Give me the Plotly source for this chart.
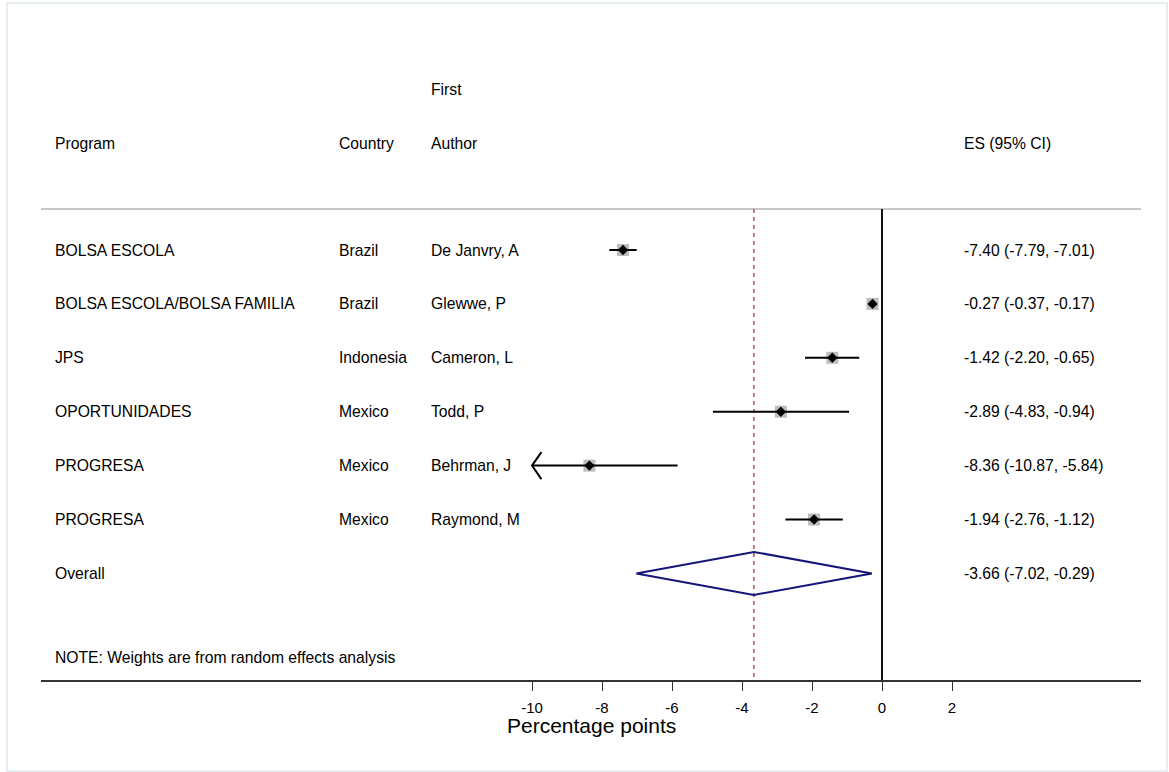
import plotly.graph_objects as go

# ---------------- data ----------------
programs = ["BOLSA ESCOLA", "BOLSA ESCOLA/BOLSA FAMILIA", "JPS", "OPORTUNIDADES", "PROGRESA", "PROGRESA"]
countries = ["Brazil", "Brazil", "Indonesia", "Mexico", "Mexico", "Mexico"]
authors = ["De Janvry, A", "Glewwe, P", "Cameron, L", "Todd, P", "Behrman, J", "Raymond, M"]
es = [-7.40, -0.27, -1.42, -2.89, -8.36, -1.94]
ci_lo = [-7.79, -0.37, -2.20, -4.83, -10.87, -2.76]
ci_hi = [-7.01, -0.17, -0.65, -0.94, -5.84, -1.12]
overall_es, overall_lo, overall_hi = -3.66, -7.02, -0.29
tick_vals = [-10, -8, -6, -4, -2, 0, 2]
x_title = "Percentage points"
note = "NOTE: Weights are from random effects analysis"

# ---------------- geometry helpers ----------------
W, H = 1169, 772
PX0 = 882.0      # pixel of x = 0
PXU = 35.0       # pixels per unit
ROW0 = 250.0     # pixel of first row
ROWH = 53.9      # pixels per row
L_PX, R_PX = 41, 1141

def px2x(p):
    return (p - PX0) / PXU

def py2r(p):
    return (p - ROW0) / ROWH

XMIN_PLOT = min(tick_vals)  # arrows clip at the axis scale minimum
font_fam = "Liberation Sans, Arial, Helvetica, sans-serif"
FS = 15.7

n = len(es)
rows = list(range(n))
overall_row = n

fig = go.Figure()

# CI lines (clipped with arrows)
lx, ly = [], []
ax_, ay_ = [], []
for r, lo, hi in zip(rows, ci_lo, ci_hi):
    lo_c = max(lo, XMIN_PLOT)
    lx += [lo_c, hi, None]
    ly += [r, r, None]
    if lo < XMIN_PLOT:
        ax_ += [lo_c + 9.4 / PXU, lo_c, lo_c + 9.4 / PXU, None]
        ay_ += [r - 13.5 / ROWH, r, r + 13.5 / ROWH, None]

# weight boxes
fig.add_trace(go.Scatter(x=es, y=rows, mode="markers",
                         marker=dict(symbol="square", size=12, color="#bdbdbd", line=dict(width=0)),
                         hoverinfo="skip", showlegend=False))
fig.add_trace(go.Scatter(x=lx, y=ly, mode="lines", line=dict(color="black", width=2),
                         hoverinfo="skip", showlegend=False))
fig.add_trace(go.Scatter(x=ax_, y=ay_, mode="lines", line=dict(color="black", width=2),
                         hoverinfo="skip", showlegend=False))
fig.add_trace(go.Scatter(x=es, y=rows, mode="markers",
                         marker=dict(symbol="diamond", size=8, color="black", line=dict(width=0)),
                         showlegend=False))

# overall diamond
dh = 21.5 / ROWH
fig.add_trace(go.Scatter(
    x=[overall_lo, overall_es, overall_hi, overall_es, overall_lo],
    y=[overall_row, overall_row - dh, overall_row, overall_row + dh, overall_row],
    mode="lines", line=dict(color="#15157a", width=2), hoverinfo="skip", showlegend=False))

# reference lines
top_r = py2r(209)
axis_r = py2r(681)
fig.add_shape(type="line", x0=0, x1=0, y0=top_r, y1=axis_r, xref="x", yref="y",
              line=dict(color="#111111", width=2), layer="below")
fig.add_shape(type="line", x0=overall_es, x1=overall_es, y0=top_r, y1=axis_r, xref="x", yref="y",
              line=dict(color="#b5524f", width=1.5, dash="4px,4px"), layer="below")
# header separator
fig.add_shape(type="line", x0=0, x1=1, xref="paper", y0=top_r, y1=top_r, yref="y",
              line=dict(color="#c8c8c8", width=2), layer="below")
# outer frame
fig.add_shape(type="rect", xref="paper", yref="paper",
              x0=(7 - L_PX) / (R_PX - L_PX), x1=(1167 - L_PX) / (R_PX - L_PX),
              y0=1 - 771 / H, y1=1 - 3 / H,
              line=dict(color="#e6edef", width=2), fillcolor="rgba(0,0,0,0)", layer="below")

# text columns
col_prog, col_country, col_author, col_es = px2x(53), px2x(337), px2x(429), px2x(962)

def txt(x, r, s, size=FS):
    fig.add_annotation(x=x, y=r, xref="x", yref="y", text=s, showarrow=False,
                       xanchor="left", yanchor="middle",
                       font=dict(family=font_fam, size=size, color="black"))

txt(col_author, py2r(89), "First")
txt(col_prog, py2r(143), "Program")
txt(col_country, py2r(143), "Country")
txt(col_author, py2r(143), "Author")
txt(col_es, py2r(143), "ES (95% CI)")
for r in rows:
    txt(col_prog, r, programs[r])
    txt(col_country, r, countries[r])
    txt(col_author, r, authors[r])
    txt(col_es, r, f"{es[r]:.2f} ({ci_lo[r]:.2f}, {ci_hi[r]:.2f})")
txt(col_prog, overall_row, "Overall")
txt(col_es, overall_row, f"{overall_es:.2f} ({overall_lo:.2f}, {overall_hi:.2f})")
txt(col_prog, py2r(657), note)

fig.add_annotation(x=px2x(591), y=py2r(725), xref="x", yref="y", text=x_title, showarrow=False,
                   xanchor="center", yanchor="middle",
                   font=dict(family=font_fam, size=21, color="black"))

fig.update_layout(
    width=W, height=H,
    margin=dict(l=L_PX, r=W - R_PX, t=0, b=0, pad=0),
    paper_bgcolor="white", plot_bgcolor="white",
    showlegend=False,
    xaxis=dict(range=[px2x(L_PX), px2x(R_PX)], anchor="free", position=1 - 681 / H,
               showline=True, linecolor="#333333", linewidth=2,
               ticks="outside", ticklen=9, tickwidth=1.3, tickcolor="#333333",
               tickvals=tick_vals, ticktext=[str(v) for v in tick_vals],
               tickfont=dict(family=font_fam, size=15, color="black"),
               ticklabelstandoff=4,
               showgrid=False, zeroline=False, fixedrange=True),
    yaxis=dict(range=[py2r(H), py2r(0)], visible=False, showgrid=False, zeroline=False, fixedrange=True),
)

fig.write_html("out.html",
               config={"displayModeBar": False},
               post_script="document.body.style.margin='0';document.body.style.padding='0';"
                           "document.body.style.overflow='hidden';")
